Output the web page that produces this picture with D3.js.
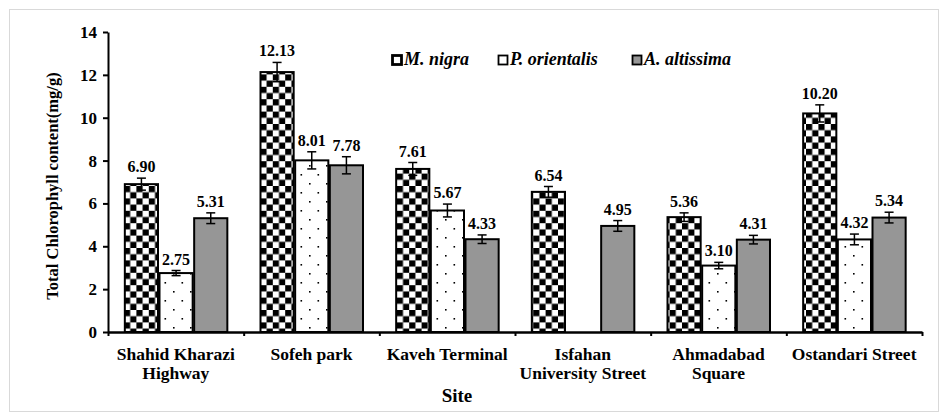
<!DOCTYPE html>
<html><head><meta charset="utf-8">
<script src="https://cdn.jsdelivr.net/npm/d3@7"></script>
<style>body{margin:0;background:#fff}</style>
</head><body><svg id="c" width="947" height="420"></svg>
<script>
const sites = [["Shahid Kharazi","Highway"],["Sofeh park"],["Kaveh Terminal"],["Isfahan","University Street"],["Ahmadabad","Square"],["Ostandari Street"]];
const seriesNames = ["M. nigra","P. orientalis","A. altissima"];
const mNigra = [6.90,12.13,7.61,6.54,5.36,10.20];
const pOrientalis = [2.75,8.01,5.67,null,3.10,4.32];
const aAltissima = [5.31,7.78,4.33,4.95,4.31,5.34];
const errNigra = [0.28,0.45,0.3,0.25,0.2,0.4];
const errOrientalis = [0.12,0.4,0.3,null,0.15,0.25];
const errAltissima = [0.25,0.4,0.2,0.25,0.2,0.25];
const yTicks = [0,2,4,6,8,10,12,14];
const FONT = "'Liberation Serif','Times New Roman','DejaVu Serif',serif";

const svg = d3.select("#c");
svg.append("rect").attr("x",9.5).attr("y",9.5).attr("width",929).attr("height",402).attr("fill","none").attr("stroke","#d9d9d9");
const defs = svg.append("defs");
const chk = defs.append("pattern").attr("id","chk").attr("patternUnits","userSpaceOnUse").attr("width",12.4).attr("height",12.4);
chk.append("rect").attr("width",12.4).attr("height",12.4).attr("fill","#fff");
chk.append("rect").attr("width",6.2).attr("height",6.2).attr("fill","#000");
chk.append("rect").attr("x",6.2).attr("y",6.2).attr("width",6.2).attr("height",6.2).attr("fill","#000");
const dot = defs.append("pattern").attr("id","dot").attr("patternUnits","userSpaceOnUse").attr("width",17).attr("height",18);
dot.append("rect").attr("width",17).attr("height",18).attr("fill","#fff");
dot.append("rect").attr("x",3).attr("y",3).attr("width",1.6).attr("height",1.6).attr("fill","#000");
dot.append("rect").attr("x",11.5).attr("y",12).attr("width",1.6).attr("height",1.6).attr("fill","#000");
const fills = ["url(#chk)","url(#dot)","#969696"];

const pL=108, pR=922, pT=32, pB=332;
const x = d3.scaleBand().domain(d3.range(sites.length)).range([pL,pR]);
const y = d3.scaleLinear().domain([0,14]).range([pB,pT]);
const xs = d3.scaleBand().domain([0,1,2]).range([0,104]);
const off = (x.bandwidth()-104)/2;

const vals = [mNigra,pOrientalis,aAltissima];
const errs = [errNigra,errOrientalis,errAltissima];
const data=[];
sites.forEach((s,i)=>vals.forEach((v,k)=>{ if(v[i]!=null) data.push({i,k,v:v[i],e:errs[k][i]}); }));

const g = svg.append("g");
g.selectAll("rect.bar").data(data).join("rect").attr("class","bar")
 .attr("x",d=>x(d.i)+off+xs(d.k)+1).attr("width",xs.bandwidth()-1.5)
 .attr("y",d=>y(d.v)).attr("height",d=>y(0)-y(d.v))
 .attr("fill",d=>fills[d.k]).attr("stroke","#000").attr("stroke-width",2);
const cx = d=>x(d.i)+off+xs(d.k)+xs.bandwidth()/2+0.25;
const eb = g.selectAll("g.eb").data(data).join("g").attr("class","eb").attr("stroke","#000").attr("stroke-width",1.5);
eb.append("line").attr("x1",cx).attr("x2",cx).attr("y1",d=>y(d.v+d.e)).attr("y2",d=>y(d.v-d.e));
eb.append("line").attr("x1",d=>cx(d)-4.5).attr("x2",d=>cx(d)+4.5).attr("y1",d=>y(d.v+d.e)).attr("y2",d=>y(d.v+d.e));
eb.append("line").attr("x1",d=>cx(d)-4.5).attr("x2",d=>cx(d)+4.5).attr("y1",d=>y(d.v-d.e)).attr("y2",d=>y(d.v-d.e));
g.selectAll("text.lab").data(data).join("text").attr("class","lab")
 .attr("x",cx).attr("y",d=>y(d.v+d.e)-6).attr("text-anchor","middle").attr("font-size",16).text(d=>d.v.toFixed(2));

const ya = svg.append("g").attr("transform",`translate(${pL},0)`)
 .call(d3.axisLeft(y).tickValues(yTicks).tickSize(5).tickSizeOuter(0).tickPadding(6));
ya.select(".domain").attr("stroke-width",2);
ya.selectAll(".tick line").attr("stroke-width",2);
ya.selectAll("text").attr("font-size",17).attr("fill","#000");
const xa = svg.append("g").attr("transform",`translate(0,${pB})`)
 .call(d3.axisBottom(d3.scaleLinear().domain([0,6]).range([pL,pR])).tickValues(d3.range(7)).tickSize(4).tickSizeOuter(0).tickFormat(""));
xa.select(".domain").attr("stroke-width",2.5);
xa.selectAll(".tick line").attr("stroke-width",2);
svg.append("g").selectAll("text").data(sites).join("text")
 .attr("x",(d,i)=>x(i)+x.bandwidth()/2).attr("y",360).attr("text-anchor","middle").attr("font-size",17.5)
 .selectAll("tspan").data(d=>d).join("tspan").attr("x",function(){return d3.select(this.parentNode).attr("x");})
 .attr("dy",(d,j)=>j?19:0).text(d=>d);
svg.append("text").attr("x",457).attr("y",402).attr("text-anchor","middle").attr("font-size",19).text("Site");
svg.append("text").attr("transform","translate(58,186) rotate(-90)").attr("text-anchor","middle").attr("font-size",16.5).text("Total Chlorophyll content(mg/g)");

const legX=[392,498,632];
const lg = svg.append("g").selectAll("g").data(seriesNames).join("g").attr("transform",(d,i)=>`translate(${legX[i]},65)`);
lg.append("rect").attr("x",0.5).attr("y",-9.5).attr("width",9).attr("height",9)
 .attr("fill",(d,i)=>i==2?"#969696":"#fff").attr("stroke","#000").attr("stroke-width",(d,i)=>i==0?2.8:1.8);
lg.append("text").attr("x",12).attr("y",0).attr("font-size",18).attr("font-style","italic").text(d=>d);

svg.selectAll("text").style("font-family",FONT).style("font-weight","bold");
</script></body></html>
